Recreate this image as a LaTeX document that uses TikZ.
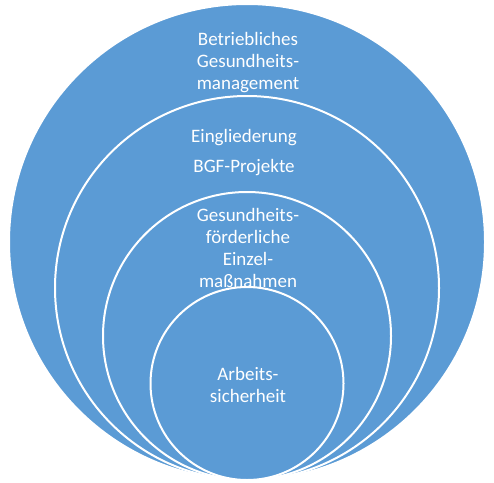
\documentclass[tikz,border=0pt]{standalone}
\usepackage{fontspec}
\setmainfont{Carlito}
\usepackage{tikz}
\usetikzlibrary{positioning}
\definecolor{ringblue}{HTML}{5B9BD5}
\tikzset{
  ring/.style={circle,draw=white,line width=2pt,fill=ringblue,inner sep=0pt,outer sep=0pt,anchor=south},
  lbl/.style={text=white,align=center,inner sep=0pt,font=\fontsize{19}{22}\selectfont}
}
\begin{document}
\begin{tikzpicture}[x=1pt,y=-1pt]
\useasboundingbox (0,0) rectangle (494,482);
% nested circles, all touching at the bottom
\coordinate (base) at (247,480);
\node[ring,minimum size=476pt] (outer) at (base) {};
\node[ring,minimum size=384pt] (mid) at (base) {};
\node[ring,minimum size=288pt] (inner) at (base) {};
\node[ring,minimum size=193pt] (core) at (base) {};
% labels
\node[lbl] (outertxt) at (248,63) {Betriebliches\\Gesundheits-\\management};
\node[lbl] (midtxt) at (244,153) {Eingliederung\\[8pt]BGF-Projekte};
\node[lbl] (innertxt) at (248,247.5) {Gesundheits-\\förderliche\\Einzel-\\maßnahmen};
\node[lbl] (coretxt) at (248,385) {Arbeits-\\sicherheit};
\end{tikzpicture}
\end{document}
